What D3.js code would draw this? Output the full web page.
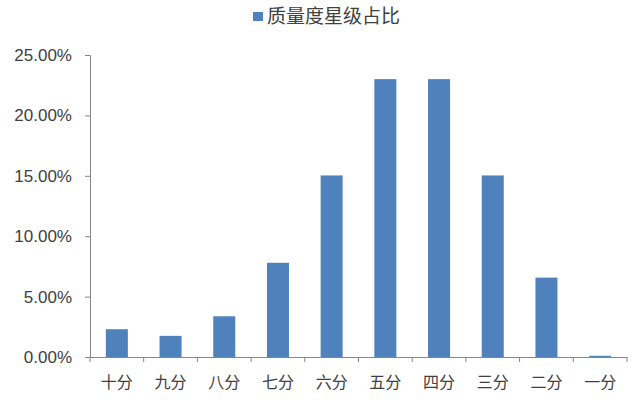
<!DOCTYPE html>
<html>
<head>
<meta charset="utf-8">
<script src="https://cdn.jsdelivr.net/npm/d3@7"></script>
<style>
  body { margin: 0; background: #fff; }
  text { font-family: "Noto Sans CJK SC", "Liberation Sans", sans-serif; fill: #404040; }
</style>
</head>
<body>
<div id="chart"></div>
<script>
// data
var categories = ["十分", "九分", "八分", "七分", "六分", "五分", "四分", "三分", "二分", "一分"];
var shares = [2.3, 1.75, 3.37, 7.8, 15.03, 23.0, 23.0, 15.03, 6.57, 0.1];
var yTicks = [0, 5, 10, 15, 20, 25];
var seriesName = "质量度星级占比";

var svgWidth = 640;
var svgHeight = 403;
var margin = { top: 55, right: 13, bottom: 46, left: 90 };
var width = svgWidth - margin.left - margin.right;
var height = svgHeight - margin.top - margin.bottom;

var svg = d3.select("#chart")
  .append("svg")
  .attr("width", svgWidth)
  .attr("height", svgHeight);

var chartGroup = svg.append("g")
  .attr("transform", `translate(${margin.left}, ${margin.top})`);

var xScale = d3.scaleBand()
  .domain(categories)
  .range([0, width])
  .paddingInner(0.59)
  .paddingOuter(0.295);

var yScale = d3.scaleLinear()
  .domain([0, 25])
  .range([height, 0]);

// bars
chartGroup.selectAll("rect.bar")
  .data(categories)
  .enter()
  .append("rect")
  .attr("class", "bar")
  .attr("x", d => xScale(d))
  .attr("y", (d, i) => yScale(shares[i]))
  .attr("width", xScale.bandwidth())
  .attr("height", (d, i) => height - yScale(shares[i]))
  .attr("fill", "#4F81BD");

// y axis
var leftAxis = d3.axisLeft(yScale)
  .tickValues(yTicks)
  .tickSize(5)
  .tickPadding(13)
  .tickFormat(d => d.toFixed(2) + "%");

var yAxisG = chartGroup.append("g").call(leftAxis);
yAxisG.selectAll("text").style("font-size", "17px").style("font-family", "Liberation Sans, sans-serif");

// x axis, ticks at category boundaries
var bottomAxis = d3.axisBottom(xScale)
  .tickSize(0)
  .tickPadding(20);

var xAxisG = chartGroup.append("g")
  .attr("transform", `translate(0, ${height})`)
  .call(bottomAxis);
xAxisG.selectAll("text").style("font-size", "16px");

var step = xScale.step();
xAxisG.selectAll("line.boundary")
  .data(d3.range(categories.length + 1))
  .enter()
  .append("line")
  .attr("class", "boundary")
  .attr("x1", i => i * step)
  .attr("x2", i => i * step)
  .attr("y1", 0)
  .attr("y2", 5);

svg.selectAll(".domain, .tick line, line.boundary")
  .attr("stroke", "#868686");

// legend
var legend = svg.append("g")
  .attr("transform", "translate(253, 12)");
legend.append("rect")
  .attr("width", 10)
  .attr("height", 9)
  .attr("fill", "#4F81BD");
legend.append("text")
  .attr("x", 14)
  .attr("y", 11)
  .style("font-size", "19px")
  .text(seriesName);
</script>
</body>
</html>
